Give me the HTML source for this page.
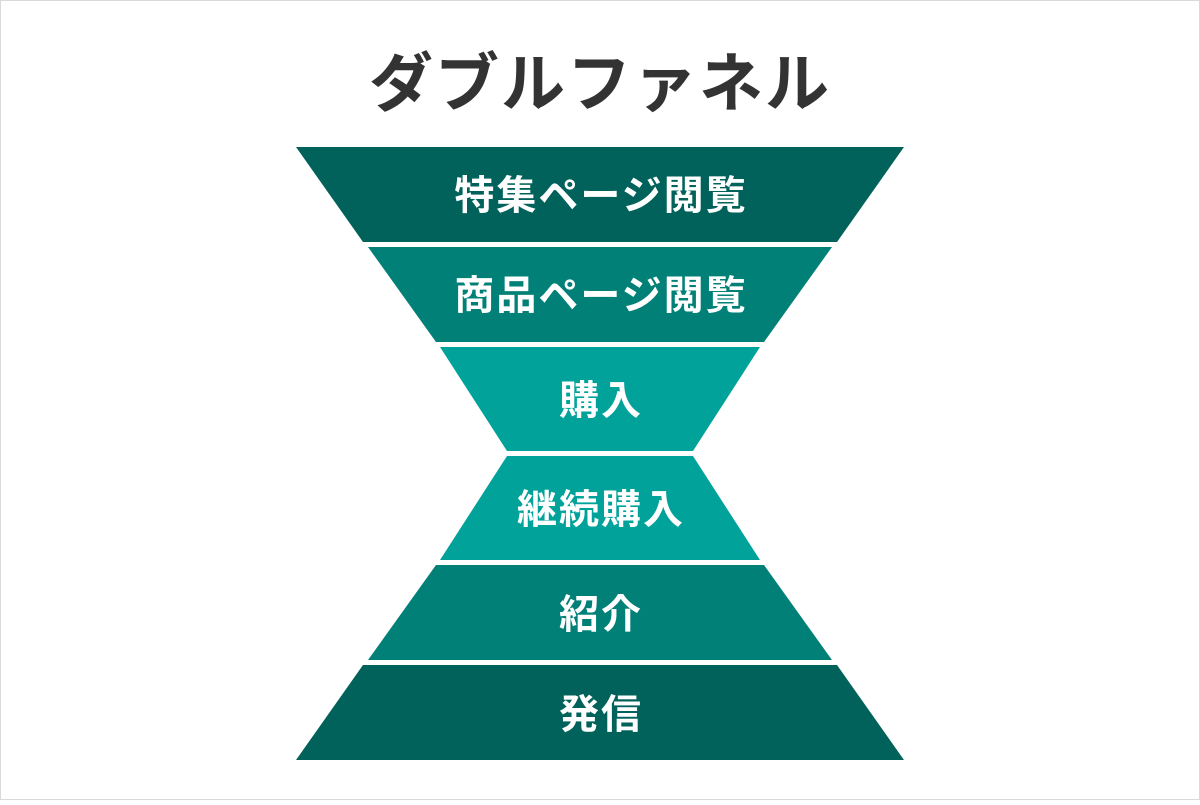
<!DOCTYPE html>
<html><head><meta charset="utf-8"><style>
html,body{margin:0;padding:0;background:#fff}
body{width:1200px;height:800px;overflow:hidden}
svg text{font-family:"Liberation Sans","Noto Sans CJK JP",sans-serif;font-weight:bold}
</style></head><body>
<svg width="1200" height="800" viewBox="0 0 1200 800">
<rect x="0.5" y="0.5" width="1199" height="799" fill="#fff" stroke="#d9d9d9"/>
<text x="600" y="106" text-anchor="middle" font-size="64" letter-spacing="2" fill="#333">ダブルファネル</text>
<polygon points="296,147 904,147 837,242 363,242" fill="#00625a"/>
<polygon points="368,247 832,247 764,342 436,342" fill="#008077"/>
<polygon points="440,347 760,347 693,451 507,451" fill="#00a29a"/>
<polygon points="507,456 693,456 760,560 440,560" fill="#00a29a"/>
<polygon points="436,565 764,565 832,660 368,660" fill="#008077"/>
<polygon points="363,665 837,665 904,760 296,760" fill="#00625a"/>
<g fill="#fff" font-size="40" letter-spacing="2" text-anchor="middle">
<text x="601" y="209">特集ページ閲覧</text>
<text x="601" y="309">商品ページ閲覧</text>
<text x="601" y="414">購入</text>
<text x="601" y="523">継続購入</text>
<text x="601" y="628">紹介</text>
<text x="601" y="728">発信</text>
</g>
</svg>
</body></html>
